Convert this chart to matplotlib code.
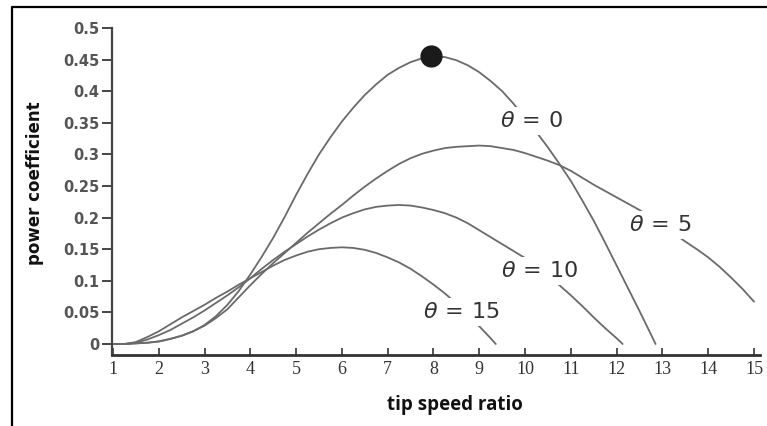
import matplotlib
matplotlib.use("Agg")
import matplotlib.pyplot as plt
from matplotlib.lines import Line2D

# ---- data ----
tsr_theta0 = [1.0, 1.25, 1.5, 1.75, 2.0, 2.25, 2.5, 2.75, 3.0, 3.25, 3.5, 3.75, 4.0,
              4.25, 4.5, 4.75, 5.0, 5.25, 5.5, 5.75, 6.0, 6.25, 6.5, 6.75, 7.0, 7.25,
              7.5, 7.75, 8.0, 8.25, 8.5, 8.75, 9.0, 9.25, 9.5, 9.75, 10.0, 10.25,
              10.5, 10.75, 11.0, 11.25, 11.5, 11.75, 12.0, 12.25, 12.5, 12.75, 12.85]
cp_theta0 = [0.000, 0.000, 0.001, 0.002, 0.004, 0.008, 0.013, 0.020, 0.030, 0.044,
             0.062, 0.084, 0.110, 0.138, 0.168, 0.201, 0.236, 0.269, 0.300, 0.327,
             0.352, 0.374, 0.394, 0.411, 0.426, 0.437, 0.446, 0.452, 0.455, 0.454,
             0.449, 0.441, 0.430, 0.416, 0.400, 0.380, 0.358, 0.335, 0.311, 0.285,
             0.258, 0.227, 0.195, 0.160, 0.124, 0.088, 0.052, 0.015, 0.000]

tsr_theta5 = [1.0, 1.25, 1.5, 1.75, 2.0, 2.25, 2.5, 2.75, 3.0, 3.25, 3.5, 3.75, 4.0,
              4.25, 4.5, 4.75, 5.0, 5.25, 5.5, 5.75, 6.0, 6.25, 6.5, 6.75, 7.0, 7.25,
              7.5, 7.75, 8.0, 8.25, 8.5, 8.75, 9.0, 9.25, 9.5, 9.75, 10.0, 10.25,
              10.5, 10.75, 11.0, 11.25, 11.5, 11.75, 12.0, 12.25, 12.5, 12.75, 13.0,
              13.25, 13.5, 13.75, 14.0, 14.25, 14.5, 14.75, 15.0]
cp_theta5 = [0.000, 0.000, 0.001, 0.002, 0.004, 0.008, 0.013, 0.020, 0.029, 0.041,
             0.055, 0.074, 0.093, 0.111, 0.128, 0.144, 0.160, 0.176, 0.191, 0.206,
             0.220, 0.235, 0.249, 0.262, 0.274, 0.285, 0.294, 0.301, 0.306, 0.310,
             0.312, 0.313, 0.314, 0.313, 0.310, 0.307, 0.302, 0.296, 0.290, 0.283,
             0.274, 0.263, 0.252, 0.242, 0.232, 0.222, 0.212, 0.200, 0.188, 0.175,
             0.162, 0.150, 0.137, 0.122, 0.105, 0.087, 0.067]

tsr_theta10 = [1.0, 1.25, 1.5, 1.75, 2.0, 2.25, 2.5, 2.75, 3.0, 3.25, 3.5, 3.75, 4.0,
               4.25, 4.5, 4.75, 5.0, 5.25, 5.5, 5.75, 6.0, 6.25, 6.5, 6.75, 7.0, 7.25,
               7.5, 7.75, 8.0, 8.25, 8.5, 8.75, 9.0, 9.25, 9.5, 9.75, 10.0, 10.25,
               10.5, 10.75, 11.0, 11.25, 11.5, 11.75, 12.0, 12.13]
cp_theta10 = [0.000, 0.000, 0.002, 0.007, 0.014, 0.022, 0.032, 0.042, 0.053, 0.065,
              0.077, 0.090, 0.104, 0.119, 0.133, 0.146, 0.158, 0.170, 0.181, 0.191,
              0.200, 0.207, 0.213, 0.217, 0.219, 0.220, 0.219, 0.216, 0.212, 0.207,
              0.200, 0.191, 0.180, 0.169, 0.158, 0.147, 0.136, 0.123, 0.108, 0.093,
              0.077, 0.060, 0.042, 0.025, 0.009, 0.000]

tsr_theta15 = [1.0, 1.25, 1.5, 1.75, 2.0, 2.25, 2.5, 2.75, 3.0, 3.25, 3.5, 3.75, 4.0,
               4.25, 4.5, 4.75, 5.0, 5.25, 5.5, 5.75, 6.0, 6.25, 6.5, 6.75, 7.0, 7.25,
               7.5, 7.75, 8.0, 8.25, 8.5, 8.75, 9.0, 9.25, 9.36]
cp_theta15 = [0.000, 0.000, 0.003, 0.011, 0.020, 0.031, 0.042, 0.052, 0.062, 0.073,
              0.083, 0.094, 0.104, 0.114, 0.124, 0.133, 0.140, 0.146, 0.150, 0.152,
              0.153, 0.152, 0.149, 0.144, 0.137, 0.129, 0.119, 0.107, 0.094, 0.080,
              0.064, 0.047, 0.028, 0.009, 0.000]

max_point_tsr = [7.95]
max_point_cp = [0.455]

curve_labels = ["θ = 0", "θ = 5", "θ = 10", "θ = 15"]
label_math = [r"$\theta\,=\,0$", r"$\theta\,=\,5$", r"$\theta\,=\,10$", r"$\theta\,=\,15$"]
label_pos = [(10.15, 0.353), (12.96, 0.188), (10.32, 0.115), (8.60, 0.051)]

x_ticks = list(range(1, 16))
y_ticks = [0, 0.05, 0.1, 0.15, 0.2, 0.25, 0.3, 0.35, 0.4, 0.45, 0.5]
y_ticklabels = ["0", "0.05", "0.1", "0.15", "0.2", "0.25", "0.3", "0.35", "0.4", "0.45", "0.5"]

# ---- figure ----
fig = plt.figure(figsize=(7.67, 4.26), dpi=100)
ax = fig.add_axes([112 / 767, 71 / 426, (760 - 112) / 767, (355 - 28) / 426])

curve_color = "#6a6a6a"
for xs, ys in [(tsr_theta0, cp_theta0), (tsr_theta5, cp_theta5),
               (tsr_theta10, cp_theta10), (tsr_theta15, cp_theta15)]:
    ax.plot(xs, ys, color=curve_color, lw=1.3, solid_capstyle="round", zorder=2)

ax.plot(max_point_tsr, max_point_cp, "o", color="#1a1a1a", markersize=15, zorder=4)

for txt, (lx, ly) in zip(label_math, label_pos):
    ax.text(lx, ly, txt, ha="center", va="center", fontsize=16, color="#333333",
            bbox=dict(facecolor="white", edgecolor="none", boxstyle="square,pad=0.18"),
            zorder=3)

ax.set_xlim(0.98, 15.13)
ax.set_ylim(-0.0174, 0.5)

ax.spines["top"].set_visible(False)
ax.spines["right"].set_visible(False)
ax.spines["left"].set_color("#444444")
ax.spines["left"].set_linewidth(1.6)
ax.spines["bottom"].set_color("#333333")
ax.spines["bottom"].set_linewidth(2.0)

ax.set_xticks(x_ticks)
ax.set_xticklabels([str(t) for t in x_ticks], fontfamily="Liberation Serif",
                   fontsize=13, color="#333333")
ax.set_yticks(y_ticks)
ax.set_yticklabels(y_ticklabels, fontfamily="DejaVu Sans", fontweight="bold",
                   fontsize=10.5, color="#555555")
ax.tick_params(axis="x", direction="in", length=5, width=1.2, color="#333333", pad=4)
ax.tick_params(axis="y", direction="out", length=7, width=1.4, color="#444444", pad=2)

ax.set_xlabel("tip speed ratio", fontsize=13.5, fontweight="bold", color="#111111",
              fontfamily="Open Sans")
ax.xaxis.set_label_coords(0.529, -0.153)
ax.set_ylabel("power coefficient", fontsize=12, fontweight="bold", color="#111111",
              fontfamily="DejaVu Sans")
ax.yaxis.set_label_coords(-0.119, 0.526)
ax.xaxis.label.set_va("center")
ax.yaxis.label.set_va("center")

# outer frame (visible on left and top)
fig.add_artist(Line2D([12 / 767, 12 / 767, 1.0], [0.0, 1 - 7 / 426, 1 - 7 / 426],
                      transform=fig.transFigure, color="black", lw=1.6))

fig.savefig("out.png", dpi=100)
